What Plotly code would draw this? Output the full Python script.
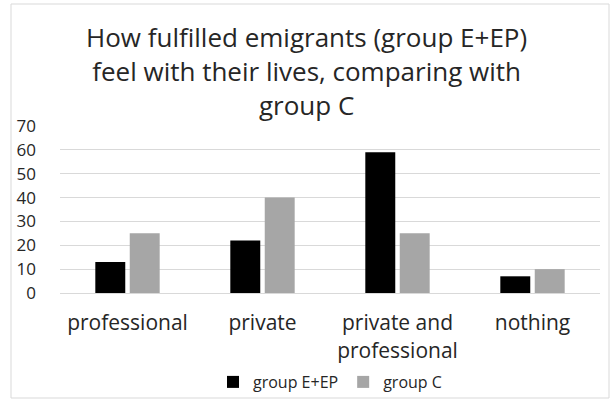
import plotly.graph_objects as go

# Survey categories and the share (%) of each group
categories = ["professional", "private", "private and<br>professional", "nothing"]
group_e_ep = [13, 22, 59, 7]
group_c = [25, 40, 25, 10]
series_names = ["group E+EP", "group C"]
y_ticks = [0, 10, 20, 30, 40, 50, 60, 70]
title_text = ("How fulfilled emigrants (group E+EP)<br>"
              "feel with their lives, comparing with<br>group C")

W, H = 613, 403
L, R = 60, 13
PLOT_TOP, PLOT_BOTTOM = 126, 293  # pixel rows of the 70 and 0 gridlines

fig = go.Figure()
fig.add_trace(go.Bar(x=categories, y=group_e_ep, name=series_names[0],
                     marker=dict(color="#000000", line=dict(width=0))))
fig.add_trace(go.Bar(x=categories, y=group_c, name=series_names[1],
                     marker=dict(color="#a6a6a6", line=dict(width=0))))

font_family = "Open Sans, Lato, sans-serif"
pw = W - L - R


def px_x(v):
    return (v - L) / pw


def px_y(v):
    return (H - v) / H


fig.update_layout(
    width=W, height=H,
    margin=dict(l=L, r=R, t=0, b=0),
    paper_bgcolor="white", plot_bgcolor="white",
    barmode="group", bargap=0.49, bargroupgap=0.13,
    font=dict(family=font_family, color="#262626"),
    xaxis=dict(showgrid=False, showline=True, linecolor="#d9d9d9", linewidth=1,
               ticks="", tickfont=dict(size=21, color="#262626"),
               ticklabelstandoff=11, automargin=False),
    yaxis=dict(range=[0, 70], tickvals=y_ticks, showgrid=True, gridcolor="#d9d9d9",
               gridwidth=1, zeroline=False, showline=False, ticks="",
               domain=[px_y(PLOT_BOTTOM), px_y(PLOT_TOP)], automargin=False,
               tickfont=dict(size=17, color="#262626"), ticklabelstandoff=23),
    legend=dict(orientation="h", x=0.5, xanchor="center", y=px_y(382), yanchor="middle",
                font=dict(size=16, color="#262626"), traceorder="normal",
                tracegroupgap=0, bgcolor="rgba(0,0,0,0)"),
    showlegend=True,
)

# Three-line chart title
fig.add_annotation(text=title_text, xref="paper", yref="paper",
                   x=px_x(W / 2), y=px_y(17), xanchor="center", yanchor="top",
                   showarrow=False, align="center",
                   font=dict(size=26, color="#262626", family=font_family))

# Light frame around the whole chart
fig.add_shape(type="rect", xref="paper", yref="paper",
              x0=px_x(11), x1=px_x(609), y0=px_y(398), y1=px_y(4),
              line=dict(color="#d9d9d9", width=1), fillcolor="rgba(0,0,0,0)", layer="below")

fig.write_html("out.html")
